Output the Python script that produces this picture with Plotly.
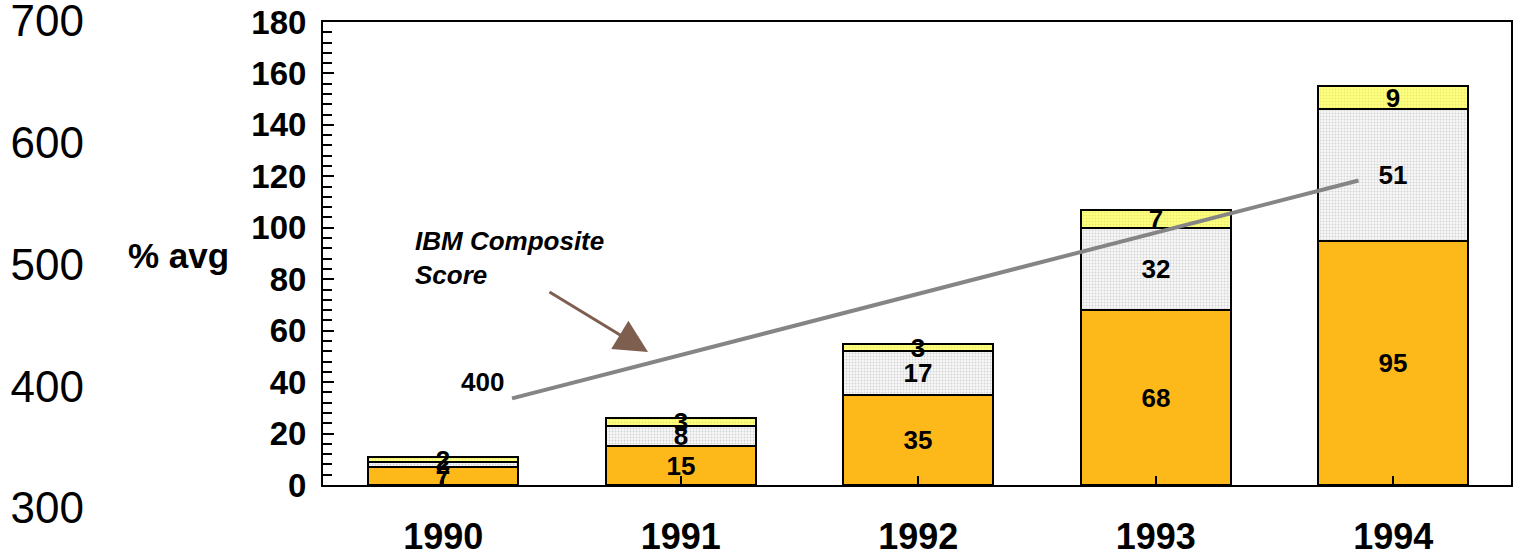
import plotly.graph_objects as go

# ---------------- data ----------------
years = [1990, 1991, 1992, 1993, 1994]
seg_orange = [7, 15, 35, 68, 95]
seg_grey = [2, 8, 17, 32, 51]
seg_yellow = [2, 3, 3, 7, 9]

score_x = [1990.29, 1993.854]      # IBM composite score line (drawn across the chart)
score_vals = [390, 569]
score_label = "400"

y_ticks = list(range(0, 181, 20))
score_ticks = [300, 400, 500, 600, 700]

# ---------------- layout helpers ----------------
W, H = 1513, 555
ML, MR, MT, MB = 88, 2, 4, 30
PW, PH = W - ML - MR, H - MT - MB


def px_x(x):
    return (x - ML) / PW


def px_y(y):
    return (H - MB - y) / PH


FONT = "Liberation Sans, Arial, Helvetica, sans-serif"
ORANGE = "#FDB91A"

fig = go.Figure()

bar_w = 0.632
common = dict(width=bar_w, textposition="inside", insidetextanchor="middle",
              constraintext="none", textangle=0,
              textfont=dict(family=FONT, size=26, color="black", weight="bold"),
              hoverinfo="skip", showlegend=False)

fig.add_trace(go.Bar(x=years, y=seg_orange, text=[str(v) for v in seg_orange],
                     marker=dict(color=ORANGE, line=dict(color="black", width=2)),
                     **common))
fig.add_trace(go.Bar(x=years, y=seg_grey, text=[str(v) for v in seg_grey],
                     marker=dict(color="#f4f4f4", line=dict(color="black", width=2),
                                 pattern=dict(shape=".", bgcolor="#f7f7f7", fgcolor="#b4b4b4",
                                              size=3, solidity=0.35)),
                     **common))
fig.add_trace(go.Bar(x=years, y=seg_yellow, text=[str(v) for v in seg_yellow],
                     marker=dict(color="#FFFF70", line=dict(color="black", width=2),
                                 pattern=dict(shape=".", bgcolor="#FFFF80", fgcolor="#d8d860",
                                              size=3, solidity=0.35)),
                     **common))

fig.add_trace(go.Scatter(x=score_x, y=score_vals, mode="lines", yaxis="y2",
                         line=dict(color="#858585", width=4), hoverinfo="skip",
                         showlegend=False))

fig.update_layout(
    width=W, height=H,
    margin=dict(l=ML, r=MR, t=MT, b=MB, pad=0, autoexpand=False),
    barmode="stack", bargap=0,
    paper_bgcolor="white", plot_bgcolor="rgba(0,0,0,0)",
    font=dict(family=FONT, color="black"),
    xaxis=dict(domain=[px_x(323), px_x(1511)], range=[1989.494, 1994.496],
               tickvals=years, ticktext=[str(y) for y in years],
               ticks="inside", ticklen=9, tickwidth=2, tickcolor="black",
               showline=True, linecolor="black", linewidth=2, mirror=True,
               showgrid=False, zeroline=False, anchor="y", automargin=False,
               ticklabeloverflow="allow",
               tickfont=dict(family=FONT, size=36, weight="bold"),
               ticklabelstandoff=19),
    yaxis=dict(domain=[px_y(485), px_y(22)], range=[0, 180],
               tickvals=y_ticks, ticks="inside", ticklen=11, tickwidth=2,
               tickcolor="black",
               minor=dict(dtick=4, tick0=0, ticks="inside", ticklen=9,
                          tickwidth=2, tickcolor="black", showgrid=False),
               showline=True, linecolor="black", linewidth=2, mirror=True,
               showgrid=False, zeroline=False, anchor="x", automargin=False,
               ticklabeloverflow="allow",
               tickfont=dict(family=FONT, size=33, weight="bold"),
               ticklabelstandoff=8),
    yaxis2=dict(domain=[0, 1], range=[286.04, 713.96], anchor="free", position=0,
                side="left", tickvals=score_ticks, ticks="", showline=False,
                showgrid=False, zeroline=False, automargin=False,
                ticklabeloverflow="allow",
                tickfont=dict(family=FONT, size=44), ticklabelstandoff=4),
)

annotations = [
    dict(text="% avg", xref="paper", yref="paper", x=px_x(178), y=px_y(255),
         xanchor="center", yanchor="middle", showarrow=False,
         font=dict(family=FONT, size=35, weight="bold")),
    dict(text="IBM Composite<br>Score", xref="paper", yref="paper",
         x=px_x(413), y=px_y(224), xanchor="left", yanchor="top", align="left",
         showarrow=False,
         font=dict(family=FONT, size=26, weight="bold", style="italic")),
    dict(text="", xref="paper", yref="paper", x=px_x(648), y=px_y(352),
         axref="pixel", ayref="pixel", ax=-100, ay=-61, showarrow=True,
         arrowhead=2, arrowsize=2.2, arrowwidth=3, arrowcolor="#7E5E4E"),
    dict(text=score_label, xref="x", yref="y2", x=score_x[0], y=score_vals[0],
         xshift=-30, yshift=16, showarrow=False,
         font=dict(family=FONT, size=26, weight="bold")),
]
fig.update_layout(annotations=annotations)

fig.write_html("out.html")
